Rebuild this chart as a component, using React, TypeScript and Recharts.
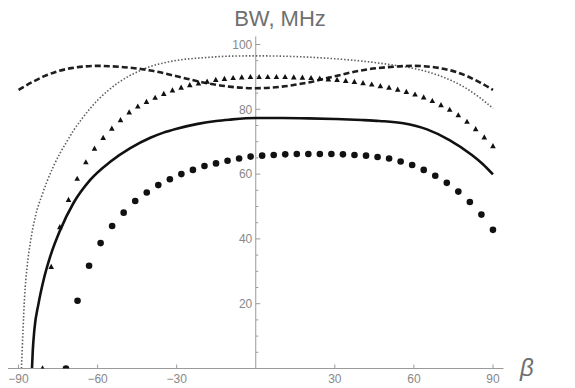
import { ComposedChart, Line, Scatter, XAxis, YAxis, ReferenceLine } from "recharts";

// dotted gray curve
const dottedBeta = [-88.9, -88.3, -87.7, -86.8, -85.5, -83.6, -81.1, -79.3, -76.8, -74.3, -71.7, -69.2, -66, -63, -60, -56, -52, -48, -44, -40, -35, -30, -20, -10, 0, 10, 20, 30, 40, 50, 60, 70, 80, 85, 90];
const dottedBW = [0, 11.9, 22.2, 31, 39, 47, 53.5, 57.5, 62.3, 66.4, 70.0, 73.4, 77.0, 80.1, 82.8, 85.8, 88.3, 90.3, 91.9, 93.2, 94.3, 95.1, 95.9, 96.4, 96.5, 96.4, 96.1, 95.6, 94.9, 93.9, 92.6, 90.3, 86.4, 83.6, 80.3];

// dashed black curve
const dashedBeta = [-90, -85, -80, -70, -60, -50, -40, -30, -20, -10, 0, 10, 20, 30, 40, 50, 60, 70, 80, 85, 90];
const dashedBW = [86, 88.3, 90.3, 92.7, 93.4, 93.0, 92.0, 90.2, 88.3, 87.0, 86.5, 87.0, 88.3, 90.2, 92.0, 93.0, 93.4, 92.7, 90.3, 88.3, 86];

// solid black curve
const solidBeta = [-84.9, -84.6, -84, -82.4, -80.5, -78, -74.2, -69.2, -62.8, -55.2, -47.6, -40, -35, -30, -22, -15, -10, 0, 10, 20, 30, 40, 47, 56, 65, 73.5, 82, 86, 90];
const solidBW = [0, 5.5, 11.9, 20.1, 27.3, 34.5, 42.7, 51.0, 58.2, 63.8, 68.0, 71.2, 72.8, 74.0, 75.5, 76.4, 76.8, 77.3, 77.3, 77.2, 77, 76.7, 76.4, 75.7, 73.8, 70.5, 65.9, 63.2, 59.9];

// triangles
const triBeta = [-80.9, -77.61, -74.33, -71.04, -67.75, -64.47, -61.18, -57.89, -54.61, -51.32, -48.03, -44.75, -41.46, -38.17, -34.89, -31.6, -28.31, -25.03, -21.74, -18.45, -15.17, -11.88, -8.59, -5.31, -2.02, 1.27, 4.56, 7.84, 11.13, 14.42, 17.7, 20.99, 24.28, 27.56, 30.85, 34.14, 37.42, 40.71, 44.0, 47.28, 50.57, 53.86, 57.14, 60.43, 63.72, 67.0, 70.29, 73.58, 76.86, 80.15, 83.44, 86.72, 90.0];
const triBW = [0, 31.3, 43.6, 52.0, 58.5, 63.6, 67.8, 71.1, 74.0, 76.6, 79.0, 80.8, 82.2, 83.5, 84.7, 85.8, 86.6, 87.4, 87.9, 88.5, 89.0, 89.3, 89.6, 89.8, 89.9, 89.9, 89.9, 89.9, 89.9, 89.8, 89.7, 89.6, 89.4, 89.2, 89.0, 88.7, 88.4, 88.0, 87.6, 87.1, 86.6, 86.0, 85.3, 84.5, 83.6, 82.5, 81.2, 79.8, 78.1, 76.1, 73.8, 71.3, 68.6];

// circles
const dotBeta = [-72.0, -67.62, -63.24, -58.86, -54.49, -50.11, -45.73, -41.35, -36.97, -32.59, -28.22, -23.84, -19.46, -15.08, -10.7, -6.32, -1.95, 2.43, 6.81, 11.19, 15.57, 19.95, 24.32, 28.7, 33.08, 37.46, 41.84, 46.22, 50.59, 54.97, 59.35, 63.73, 68.11, 72.49, 76.86, 81.24, 85.62, 90.0];
const dotBW = [0, 20.9, 31.7, 38.7, 44.0, 48.1, 51.7, 54.3, 56.6, 58.4, 60.0, 61.3, 62.5, 63.3, 64.1, 64.8, 65.4, 65.7, 65.9, 66.1, 66.2, 66.2, 66.2, 66.2, 66.1, 65.9, 65.7, 65.3, 64.8, 63.9, 62.8, 61.3, 59.5, 57.3, 54.6, 51.4, 47.5, 42.8];

const xTicks = [-90, -60, -30, 30, 60, 90];
const yTicks = [5, 10, 15, 20, 25, 30, 35, 40, 45, 50, 55, 60, 65, 70, 75, 80, 85, 90, 95, 100];

const toPoints = (bs: number[], vs: number[]) => bs.map((b, i) => ({ b, v: vs[i] }));

const W = 575;
const H = 388;
const Y_AXIS_W = 8;
const margin = { top: 36.4, right: 71.5, bottom: 0, left: 0 };
const X_DOMAIN: [number, number] = [-94, 94];
// pixel position of beta = 0 (where the vertical axis sits)
const plotLeft = margin.left + Y_AXIS_W;
const X0 = plotLeft + ((W - plotLeft - margin.right) * (0 - X_DOMAIN[0])) / (X_DOMAIN[1] - X_DOMAIN[0]);

const AXIS = "#9a9a9a";
const LABEL = "#888888";
const FONT = "'Liberation Sans', Arial, sans-serif";

const XTick = (props: any) => {
  const { x, y, payload } = props;
  const v = payload.value;
  return (
    <g>
      <line x1={x} x2={x} y1={y} y2={y - 4} stroke={AXIS} strokeWidth={1} />
      <text x={x} y={y + 14} textAnchor="middle" fill={LABEL} fontSize={12} fontFamily={FONT}>
        {v < 0 ? `\u2212${Math.abs(v)}` : v}
      </text>
    </g>
  );
};

const YTick = (props: any) => {
  const { y, payload } = props;
  const v = payload.value;
  const major = v % 20 === 0;
  return (
    <g>
      <line x1={X0} x2={X0 + (major ? 4.5 : 2.5)} y1={y} y2={y} stroke={AXIS} strokeWidth={1} />
      {major && (
        <text x={X0 - 3.5} y={y + 4.3} textAnchor="end" fill={LABEL} fontSize={12} fontFamily={FONT}>
          {v}
        </text>
      )}
    </g>
  );
};

const Triangle = (props: any) => {
  const { cx, cy } = props;
  return <path d={`M${cx},${cy - 3.3} L${cx + 2.8},${cy + 1.9} L${cx - 2.8},${cy + 1.9} Z`} fill="#111" />;
};

const Dot = (props: any) => {
  const { cx, cy } = props;
  return <circle cx={cx} cy={cy} r={3.3} fill="#111" />;
};

export default function App() {
  return (
    <div style={{ position: "relative", width: W, height: H }}>
      <style>{`body{margin:0}`}</style>
      <ComposedChart width={W} height={H} margin={margin}>
        <XAxis
          type="number"
          dataKey="b"
          domain={X_DOMAIN}
          ticks={xTicks}
          interval={0}
          height={19.5}
          tickSize={0}
          tickMargin={0}
          tickLine={false}
          axisLine={{ stroke: AXIS, strokeWidth: 1 }}
          tick={<XTick />}
          allowDataOverflow
        />
        <YAxis
          type="number"
          dataKey="v"
          domain={[0, 102.5]}
          ticks={yTicks}
          interval={0}
          width={Y_AXIS_W}
          tickSize={0}
          tickMargin={0}
          tickLine={false}
          axisLine={false}
          tick={<YTick />}
          allowDataOverflow
        />
        <ReferenceLine x={0} stroke={AXIS} strokeWidth={1} />
        <Line data={toPoints(dottedBeta, dottedBW)} dataKey="v" type="monotone" stroke="#5e5e5e" strokeWidth={1.6} strokeDasharray="1.5 1.9" dot={false} isAnimationActive={false} />
        <Line data={toPoints(dashedBeta, dashedBW)} dataKey="v" type="monotone" stroke="#1e1e1e" strokeWidth={2.6} strokeDasharray="6 3" dot={false} isAnimationActive={false} />
        <Line data={toPoints(solidBeta, solidBW)} dataKey="v" type="monotone" stroke="#111" strokeWidth={2.6} dot={false} isAnimationActive={false} />
        <Scatter data={toPoints(triBeta, triBW)} dataKey="v" shape={<Triangle />} isAnimationActive={false} />
        <Scatter data={toPoints(dotBeta, dotBW)} dataKey="v" shape={<Dot />} isAnimationActive={false} />
      </ComposedChart>
      <svg width={W} height={H} style={{ position: "absolute", left: 0, top: 0, pointerEvents: "none" }}>
        <text x={280} y={26} textAnchor="middle" fill="#6f6f6f" fontSize={22} fontFamily={FONT}>
          BW, MHz
        </text>
        <text x={520} y={376} fill="#6f6f6f" fontSize={24} fontStyle="italic" fontFamily={FONT}>
          β
        </text>
      </svg>
    </div>
  );
}
